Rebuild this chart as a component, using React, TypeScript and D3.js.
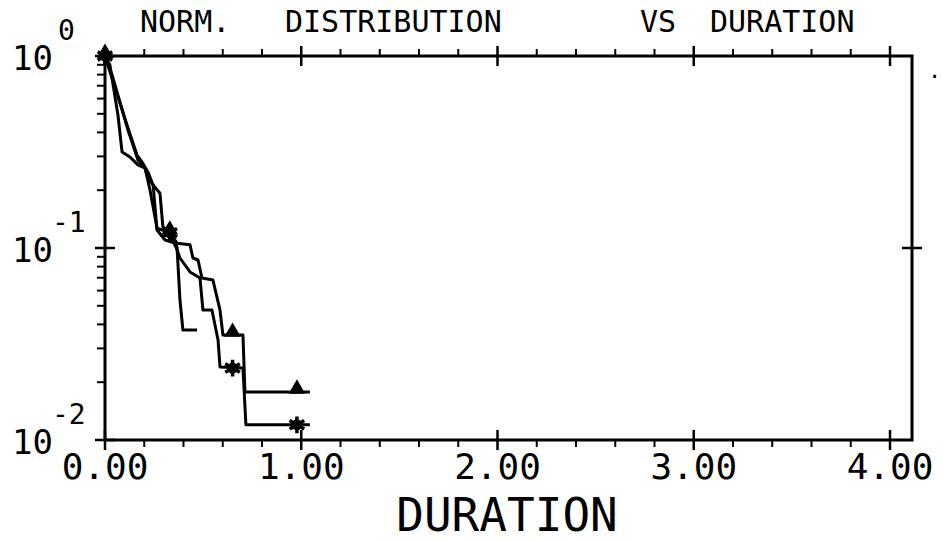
import React, {Component} from 'react'
import * as d3 from 'd3'

interface Props{}

const W = 943
const H = 542
const margin = {top: 56, right: 31, bottom: 102, left: 105}
const lineStrokeWidth = 3
const monoFont = "'DejaVu Sans Mono', 'Liberation Mono', monospace"

// title words (placed separately, like the plotter did)
const titleWords = ["NORM.", "DISTRIBUTION", "VS", "DURATION"]
const titleX = [140, 285, 640, 710]

const xTicks = [0, 1, 2, 3, 4]
const yTicks = [1, 0.1, 0.01]

// series
const plainX = [0, 0.025, 0.066, 0.087, 0.127, 0.168, 0.204, 0.219, 0.245, 0.265, 0.306, 0.357, 0.367, 0.382, 0.397, 0.469]
const plainY = [1.0, 0.898, 0.493, 0.316, 0.298, 0.271, 0.261, 0.232, 0.213, 0.124, 0.110, 0.106, 0.101, 0.0536, 0.0374, 0.0374]

const triX = [0, 0.117, 0.163, 0.188, 0.219, 0.245, 0.280, 0.295, 0.331, 0.367, 0.433, 0.448, 0.474, 0.494, 0.550, 0.586, 0.601, 0.703, 0.713, 1.044]
const triY = [1.0, 0.422, 0.305, 0.281, 0.249, 0.213, 0.193, 0.129, 0.120, 0.106, 0.104, 0.0887, 0.0866, 0.0698, 0.0681, 0.0475, 0.0352, 0.0352, 0.0178, 0.0178]

const starX = [0, 0.036, 0.117, 0.168, 0.204, 0.229, 0.265, 0.321, 0.362, 0.382, 0.433, 0.484, 0.499, 0.545, 0.576, 0.586, 0.703, 0.718, 1.044]
const starY = [1.0, 0.796, 0.412, 0.287, 0.261, 0.201, 0.127, 0.121, 0.101, 0.0887, 0.075, 0.0698, 0.0475, 0.0475, 0.0332, 0.0240, 0.0237, 0.0120, 0.0120]

// marker positions
const triMarkX = [0, 0.33, 0.65, 0.978]
const triMarkY = [1.0, 0.12, 0.0352, 0.0178]
const starMarkX = [0, 0.33, 0.65, 0.978]
const starMarkY = [1.0, 0.12, 0.0237, 0.012]

class App extends Component<Props> {

  draw(){
    var svg = d3.select('#distChart');
    svg.selectAll("*").remove();

    var x = d3.scaleLinear().domain([0, 4]).range([margin.left, 890])
    var y = d3.scaleLog().domain([0.01, 1]).range([H - margin.bottom, margin.top])
    var right = W - margin.right
    var top = margin.top, bottom = y(0.01)

    var g = svg.append("g").attr("stroke", "black").attr("fill", "none")

    // frame
    g.append("rect")
      .attr("x", margin.left).attr("y", top)
      .attr("width", right - margin.left).attr("height", bottom - top)
      .attr("stroke-width", lineStrokeWidth)

    // x ticks: minor every 0.2, outward; majors cross
    var minorX = d3.range(0, 4.01, 0.2).filter(v => Math.abs(v - Math.round(v)) > 0.01)
    minorX.forEach(v => {
      g.append("line").attr("x1", x(v)).attr("x2", x(v)).attr("y1", top).attr("y2", top - 7).attr("stroke-width", 2)
      g.append("line").attr("x1", x(v)).attr("x2", x(v)).attr("y1", bottom).attr("y2", bottom + 7).attr("stroke-width", 2)
    })
    xTicks.forEach(v => {
      g.append("line").attr("x1", x(v)).attr("x2", x(v)).attr("y1", top - 10).attr("y2", top + 10).attr("stroke-width", 2.5)
      g.append("line").attr("x1", x(v)).attr("x2", x(v)).attr("y1", bottom - 10).attr("y2", bottom + 10).attr("stroke-width", 2.5)
    })

    // y ticks: log minors on the left, outward
    var minorY: number[] = []
    ;[0.01, 0.1].forEach(d => { for (var k = 2; k <= 9; k++) minorY.push(d * k) })
    minorY.forEach(v => {
      g.append("line").attr("x1", margin.left).attr("x2", margin.left - 8).attr("y1", y(v)).attr("y2", y(v)).attr("stroke-width", 2)
    })
    yTicks.forEach(v => {
      g.append("line").attr("x1", margin.left - 10).attr("x2", margin.left + 10).attr("y1", y(v)).attr("y2", y(v)).attr("stroke-width", 2.5)
    })
    g.append("line").attr("x1", right - 10).attr("x2", right + 10).attr("y1", y(0.1)).attr("y2", y(0.1)).attr("stroke-width", 2.5)

    // curves
    var line = d3.line<[number, number]>()
      .x(d => x(d[0]))
      .y(d => y(d[1]))
    var series = [[plainX, plainY], [triX, triY], [starX, starY]]
    series.forEach(s => {
      var pts = s[0].map((v, i) => [v, s[1][i]] as [number, number])
      g.append("path").attr("d", line(pts)).attr("stroke-width", lineStrokeWidth).attr("stroke-linejoin", "round")
    })

    // markers
    var tri = d3.symbol().type(d3.symbolTriangle).size(120)
    var star = d3.symbol().type(d3.symbolAsterisk).size(200)
    triMarkX.forEach((v, i) => {
      svg.append("path").attr("d", tri()).attr("transform", "translate(" + x(v) + "," + (y(triMarkY[i]) - 3) + ")").attr("fill", "black")
    })
    starMarkX.forEach((v, i) => {
      svg.append("path").attr("d", star()).attr("transform", "translate(" + x(v) + "," + y(starMarkY[i]) + ")")
        .attr("stroke", "black").attr("stroke-width", 3.5).attr("fill", "none")
      svg.append("circle").attr("cx", x(v)).attr("cy", y(starMarkY[i])).attr("r", 5.5).attr("fill", "black")
    })

    var txt = svg.append("g").attr("font-family", monoFont).attr("fill", "black")

    // title
    titleWords.forEach((w, i) => {
      txt.append("text").attr("x", titleX[i]).attr("y", 32).attr("font-size", 30).text(w)
    })

    // x tick labels
    xTicks.forEach(v => {
      txt.append("text").attr("x", x(v)).attr("y", 479).attr("font-size", 36)
        .attr("text-anchor", "middle").text(d3.format(".2f")(v))
    })

    // y tick labels 10^n
    yTicks.forEach(v => {
      var e = Math.round(Math.log10(v))
      txt.append("text").attr("x", 12).attr("y", y(v) + 14).attr("font-size", 34).text("10")
      txt.append("text").attr("x", e === 0 ? 58 : 52).attr("y", y(v) - 16).attr("font-size", 28)
        .text(e === 0 ? "0" : "-" + Math.abs(e))
    })

    // x label
    txt.append("text").attr("x", 507).attr("y", 531).attr("font-size", 46)
      .attr("text-anchor", "middle").text("DURATION")

    // stray plotter mark at right edge
    txt.append("text").attr("x", 928).attr("y", 78).attr("font-size", 22).text(".")
  }

  componentDidMount(){
    this.draw();
  }

  render(){
    return (
      <svg
        id="distChart"
        width={W}
        height={H}
        style={{position: 'absolute', left: 0, top: 0, background: 'white'}}
      />
    );
  }
}

export default App;
